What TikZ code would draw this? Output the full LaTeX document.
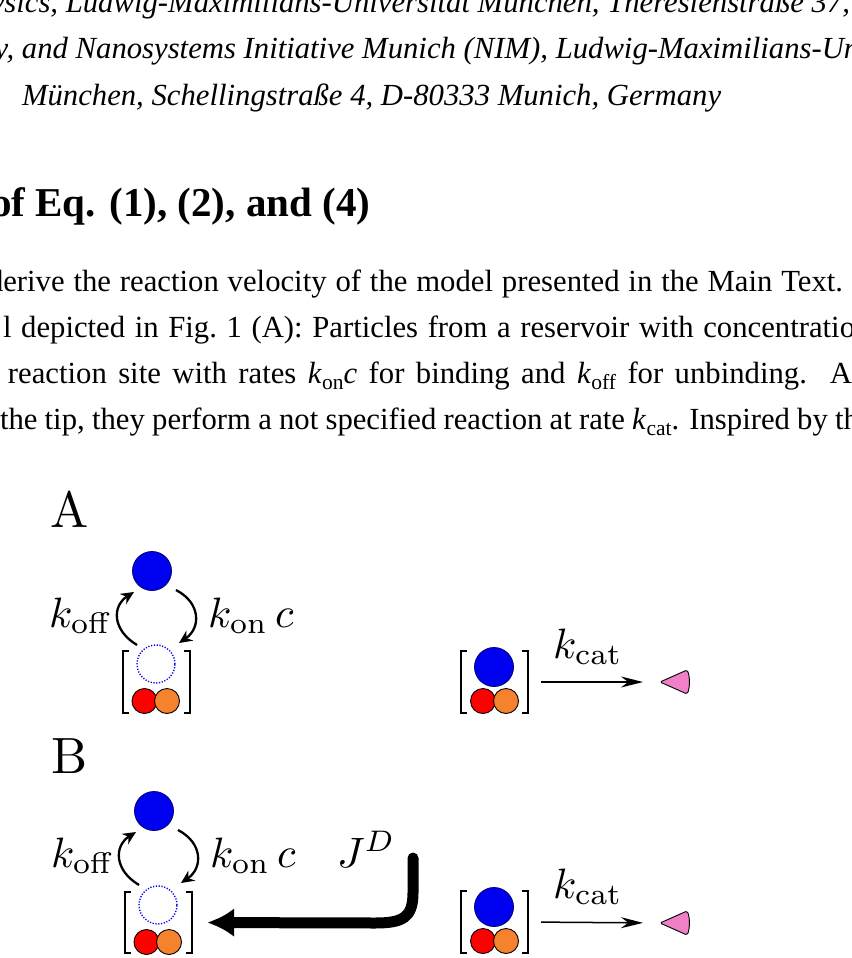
\RequirePackage{fix-cm}
\documentclass[tikz,border=0pt]{standalone}
\usepackage[no-math]{fontspec}
\newfontfamily\tms{Liberation Serif}
\usetikzlibrary{arrows.meta}
\definecolor{pblue}{RGB}{0,0,240}
\definecolor{pnavy}{RGB}{0,0,110}
\definecolor{pred}{RGB}{255,0,0}
\definecolor{porange}{RGB}{245,130,45}
\definecolor{ppink}{RGB}{240,128,200}
\newcommand\kk[1]{\textit{k}\kern0.3pt\raisebox{-0.22em}{\fontsize{21.5}{24}\selectfont #1}}
\newcommand\bigmath[1]{\scalebox{4.25}{$#1$}}
\begin{document}
\begin{tikzpicture}[x=1pt,y=-1pt,
  body/.style={anchor=base west,inner sep=0pt,outer sep=0pt,font=\tms\fontsize{30.7}{36}\selectfont},
  bodyit/.style={anchor=base west,inner sep=0pt,outer sep=0pt,font=\tms\itshape\fontsize{30.7}{36}\selectfont},
  head/.style={anchor=base west,inner sep=0pt,outer sep=0pt,font=\tms\bfseries\fontsize{41}{48}\selectfont},
  lab/.style={anchor=base west,inner sep=0pt,outer sep=0pt,font=\fontsize{10}{12}\selectfont},
  panel/.style={anchor=base west,inner sep=0pt,outer sep=0pt,font=\fontsize{10}{12}\selectfont},
  ball/.style={circle,minimum size=39pt,inner sep=0pt,fill=pblue,draw=pnavy,line width=0.8pt},
  hole/.style={circle,minimum size=38pt,inner sep=0pt,draw=pblue,dash pattern=on 1.2pt off 1.6pt,line width=1.4pt},
  redball/.style={circle,minimum size=25pt,inner sep=0pt,fill=pred,draw=black,line width=0.9pt},
  orangeball/.style={circle,minimum size=25pt,inner sep=0pt,fill=porange,draw=black,line width=0.9pt},
  site/.style={rectangle,minimum width=67pt,minimum height=61pt,inner sep=0pt},
  brk/.style={line width=2.2pt},
  bendarrow/.style={line width=2.3pt,-{Stealth[length=13pt,width=12pt]}},
  catarrow/.style={line width=1.5pt,-{Stealth[length=22pt,width=11pt]}},
  fluxarrow/.style={line width=11pt,line cap=round,-{Latex[length=27pt,width=29pt]}},
  prod/.style={fill=ppink,draw=black,line width=0.9pt,rounded corners=1.5pt},
]
\fill[white] (0,0) rectangle (851,958);
\useasboundingbox (0,0) rectangle (851,958);

% ---------- page text ----------
\node[bodyit,anchor=base east] (aff1) at (850,13) {Physics, Ludwig-Maximilians-Universität München, Theresienstraße 37,};
\node[bodyit] (aff2) at (22,59) {\llap{Germany, }and Nanosystems Initiative Munich (NIM), Ludwig-Maximilians-Universität};
\node[bodyit] (aff3) at (22,105) {München, Schellingstraße 4, D-80333 Munich, Germany};
\node[head] (hd) at (-9,216) {of Eq. (1), (2), and (4)};
\node[body] (l1) at (-12,291) {\hbox to 855pt{derive the reaction velocity of the model presented in the Main Text.}};
\node[body] (l2) at (3,337) {\hbox to 852pt{l depicted in Fig.\ 1 (A): Particles from a reservoir with concentratio\rlap{n}}};
\node[body] (l3) at (8,383) {\hbox to 844pt{reaction site with rates \kk{on}\textit{c} for binding and \kk{off} for unbinding.\ \ A}};
\node[body] (l4) at (0,429) {\hbox to 859pt{the tip, they perform a not specified reaction at rate \kk{cat}. Inspired by th\rlap{e}}};

% ---------- panel A ----------
\node[panel] (pA) at (50,527) {\scalebox{5.1}{A}};
\node[ball] (bA) at (152,571) {};
\node[site] (sA) at (156.5,682) {};
\node[hole] (hA) at (156,664) {};
\node[redball] (rA) at (144.5,701) {};
\node[orangeball] (oA) at (167,701) {};
\draw[brk] ([xshift=6pt]sA.north west) -- (sA.north west) -- (sA.south west) -- ([xshift=6pt]sA.south west);
\draw[brk] ([xshift=-6pt]sA.north east) -- (sA.north east) -- (sA.south east) -- ([xshift=-6pt]sA.south east);
\coordinate (offAs) at (137,645);
\coordinate (offAe) at (134,592);
\coordinate (onAs) at (176,590);
\coordinate (onAe) at (179,643);
\draw[bendarrow] (offAs) .. controls (112,630) and (112,606) .. (offAe);
\draw[bendarrow] (onAs) .. controls (201,603) and (201,628) .. (onAe);
\node[lab] (koffA) at (49,627) {\bigmath{k_{\mathrm{off}}}};
\node[lab] (konA) at (208,627) {\bigmath{k_{\mathrm{on}}\,c}};

\node[site] (tA) at (494.5,682) {};
\node[ball] (cbA) at (494,667) {};
\node[redball] (crA) at (483,701) {};
\node[orangeball] (coA) at (506,701) {};
\draw[brk] ([xshift=6pt]tA.north west) -- (tA.north west) -- (tA.south west) -- ([xshift=6pt]tA.south west);
\draw[brk] ([xshift=-6pt]tA.north east) -- (tA.north east) -- (tA.south east) -- ([xshift=-6pt]tA.south east);
\coordinate (prA) at (660,682);
\draw[catarrow,shorten <=13pt,shorten >=17pt] (tA.east) -- (prA);
\node[lab] (kcatA) at (553,658) {\bigmath{k_{\mathrm{cat}}}};
\begin{scope}[shift={(prA)}]
\draw[prod] (0,0) -- (27,-12) .. controls (30,-6) and (30,6) .. (27,12) -- cycle;
\end{scope}

% ---------- panel B ----------
\node[panel] (pB) at (51,773) {\scalebox{5.1}{B}};
\node[ball] (bB) at (154,811) {};
\node[site] (sB) at (158.5,922.5) {};
\node[hole] (hB) at (158,905) {};
\node[redball] (rB) at (146.5,942) {};
\node[orangeball] (oB) at (169,942) {};
\draw[brk] ([xshift=6pt]sB.north west) -- (sB.north west) -- (sB.south west) -- ([xshift=6pt]sB.south west);
\draw[brk] ([xshift=-6pt]sB.north east) -- (sB.north east) -- (sB.south east) -- ([xshift=-6pt]sB.south east);
\coordinate (offBs) at (139,885);
\coordinate (offBe) at (136,832);
\coordinate (onBs) at (178,830);
\coordinate (onBe) at (181,883);
\draw[bendarrow] (offBs) .. controls (114,870) and (114,846) .. (offBe);
\draw[bendarrow] (onBs) .. controls (203,843) and (203,868) .. (onBe);
\node[lab] (koffB) at (51,867) {\bigmath{k_{\mathrm{off}}}};
\node[lab] (konB) at (210,867) {\bigmath{k_{\mathrm{on}}\,c}};
\node[lab] (JD) at (337,867) {\bigmath{J^D}};
\coordinate (jtop) at (413,858);
\draw[fluxarrow,shorten >=15pt] (jtop) -- (413,893) .. controls (413,918) and (402,923) .. (375,923) -- (sB.east);

\node[site] (tB) at (494.5,922) {};
\node[ball] (cbB) at (494,907) {};
\node[redball] (crB) at (483,941) {};
\node[orangeball] (coB) at (506,941) {};
\draw[brk] ([xshift=6pt]tB.north west) -- (tB.north west) -- (tB.south west) -- ([xshift=6pt]tB.south west);
\draw[brk] ([xshift=-6pt]tB.north east) -- (tB.north east) -- (tB.south east) -- ([xshift=-6pt]tB.south east);
\coordinate (prB) at (660,923);
\draw[catarrow,shorten <=13pt,shorten >=17pt] (tB.east) -- (prB);
\node[lab] (kcatB) at (553,898) {\bigmath{k_{\mathrm{cat}}}};
\begin{scope}[shift={(prB)}]
\draw[prod] (0,0) -- (27,-12) .. controls (30,-6) and (30,6) .. (27,12) -- cycle;
\end{scope}
\end{tikzpicture}
\end{document}
